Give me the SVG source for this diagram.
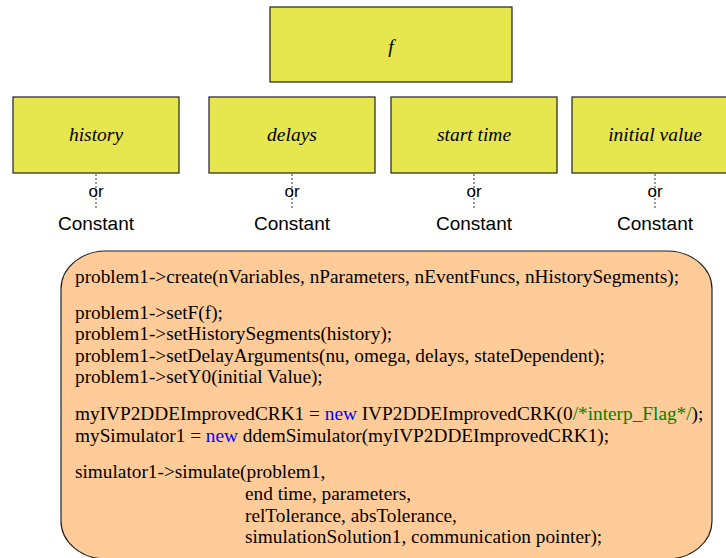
<svg xmlns="http://www.w3.org/2000/svg" width="726" height="558" viewBox="0 0 726 558">
  <style>
    .box { fill: #e6e64e; stroke: #222; stroke-width: 1.2; }
    .lbl { font-family: "Liberation Serif", "Times New Roman", serif; font-style: italic; font-size: 19.5px; fill: #000; text-anchor: middle; }
    .alt { font-family: "Liberation Sans", Arial, sans-serif; font-size: 19px; fill: #000; text-anchor: middle; }
    .or { font-family: "Liberation Sans", Arial, sans-serif; font-size: 17px; fill: #000; text-anchor: middle; }
    .dot { stroke: #333; stroke-width: 1; stroke-dasharray: 2 2; fill: none; }
    .code { font-family: "Liberation Serif", "Times New Roman", serif; font-size: 19.3px; fill: #000; }
    .kw { fill: #0000ff; }
    .cm { fill: #008000; }
  </style>

  <g id="node-f">
    <rect class="box" x="270" y="7" width="242" height="75"/>
    <text class="lbl" x="391" y="53">f</text>
  </g>
  <g id="node-history">
    <rect class="box" x="13" y="97" width="166" height="76"/>
    <text class="lbl" x="96" y="141">history</text>
  </g>
  <g id="node-delays">
    <rect class="box" x="209" y="97" width="166" height="76"/>
    <text class="lbl" x="292" y="141">delays</text>
  </g>
  <g id="node-start">
    <rect class="box" x="391" y="97" width="166" height="76"/>
    <text class="lbl" x="474" y="141">start time</text>
  </g>
  <g id="node-initial">
    <rect class="box" x="572" y="97" width="166" height="76"/>
    <text class="lbl" x="655" y="141">initial value</text>
  </g>

  <g id="connectors">
    <line class="dot" x1="96" y1="174" x2="96" y2="209"/>
    <line class="dot" x1="292" y1="174" x2="292" y2="209"/>
    <line class="dot" x1="474" y1="174" x2="474" y2="209"/>
    <line class="dot" x1="655" y1="174" x2="655" y2="209"/>
  </g>

  <g id="alternatives">
    <text class="or" x="96" y="197">or</text>
    <text class="or" x="292" y="197">or</text>
    <text class="or" x="474" y="197">or</text>
    <text class="or" x="655" y="197">or</text>
    <text class="alt" x="96" y="230">Constant</text>
    <text class="alt" x="292" y="230">Constant</text>
    <text class="alt" x="474" y="230">Constant</text>
    <text class="alt" x="655" y="230">Constant</text>
  </g>

  <g id="node-code">
    <rect x="61" y="251" width="651" height="308" rx="45" ry="38" fill="#ffcc99" stroke="#222" stroke-width="1.2"/>
    <text class="code" x="75" y="283">problem1-&gt;create(nVariables, nParameters, nEventFuncs, nHistorySegments);</text>
    <text class="code" x="75" y="319">problem1-&gt;setF(f);</text>
    <text class="code" x="75" y="340">problem1-&gt;setHistorySegments(history);</text>
    <text class="code" x="75" y="362">problem1-&gt;setDelayArguments(nu, omega, delays, stateDependent);</text>
    <text class="code" x="75" y="383">problem1-&gt;setY0(initial Value);</text>
    <text class="code" x="75" y="420">myIVP2DDEImprovedCRK1 = <tspan class="kw">new</tspan> IVP2DDEImprovedCRK(0<tspan class="cm">/*interp_Flag*/</tspan>);</text>
    <text class="code" x="75" y="442">mySimulator1 = <tspan class="kw">new</tspan> ddemSimulator(myIVP2DDEImprovedCRK1);</text>
    <text class="code" x="75" y="478">simulator1-&gt;simulate(problem1,</text>
    <text class="code" x="245" y="500">end time, parameters,</text>
    <text class="code" x="245" y="522">relTolerance, absTolerance,</text>
    <text class="code" x="245" y="543">simulationSolution1, communication pointer);</text>
  </g>
</svg>
